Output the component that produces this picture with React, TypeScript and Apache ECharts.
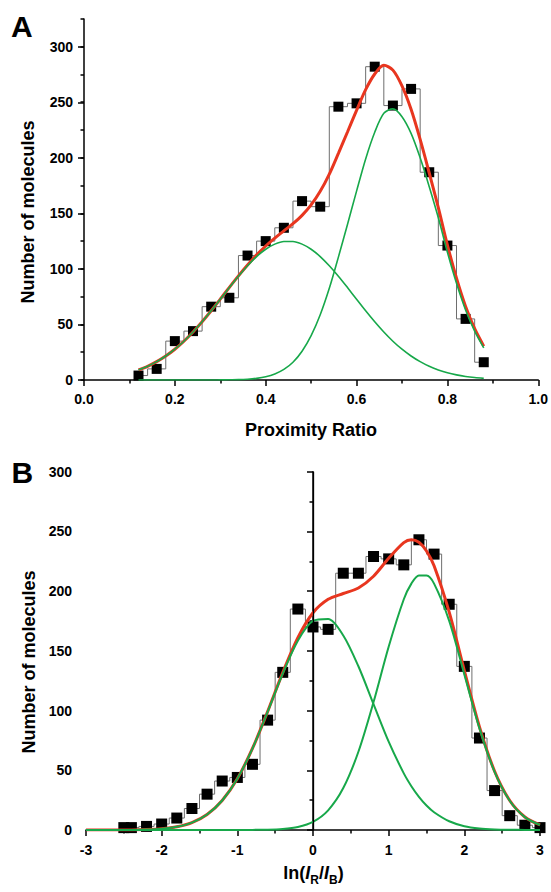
import React, { useEffect, useRef } from 'react';
import * as echarts from 'echarts';

// ---------- Panel A: proximity ratio histogram ----------
const A_BIN_X = [0.12, 0.16, 0.2, 0.24, 0.28, 0.32, 0.36, 0.4, 0.44, 0.48, 0.52, 0.56, 0.6, 0.64, 0.68, 0.72, 0.76, 0.8, 0.84, 0.88];
const A_COUNTS = [4, 10, 35, 44, 66, 74, 112, 125, 137, 161, 156, 246, 249, 282, 247, 262, 187, 121, 55, 16];

const A_FIT_X = [0.12, 0.14, 0.16, 0.18, 0.2, 0.22, 0.24, 0.26, 0.28, 0.3, 0.32, 0.34, 0.36, 0.38, 0.4, 0.42, 0.44, 0.46, 0.48, 0.5, 0.52, 0.54, 0.56, 0.58, 0.6, 0.62, 0.64, 0.66, 0.68, 0.7, 0.72, 0.74, 0.76, 0.78, 0.8, 0.82, 0.84, 0.86, 0.88];
const A_FIT_LOW = [9.1, 12.3, 16.5, 21.6, 27.7, 34.9, 43.2, 52.4, 62.3, 72.7, 83.2, 93.4, 102.8, 111.1, 117.7, 122.3, 124.7, 124.7, 122.3, 117.7, 111.1, 102.8, 93.4, 83.2, 72.7, 62.3, 52.4, 43.2, 34.9, 27.7, 21.6, 16.5, 12.3, 9.1, 6.5, 4.6, 3.2, 2.2, 1.5];
const A_FIT_HIGH = [0, 0, 0, 0, 0, 0, 0, 0, 0, 0.1, 0.2, 0.3, 0.7, 1.5, 2.9, 5.4, 9.5, 16.0, 25.9, 39.9, 58.7, 82.5, 110.6, 140, 170, 199, 223, 240, 244, 237, 222, 200, 174, 146, 115, 87, 63, 44, 29];
const A_FIT_SUM = [9.1, 12.3, 16.5, 21.6, 27.7, 34.9, 43.2, 52.4, 62.3, 72.8, 83.4, 93.7, 103.5, 112.6, 120.6, 127.7, 134.2, 140.7, 148.2, 157.6, 169.8, 185.3, 204.0, 223.2, 242.7, 261.3, 275.4, 283.2, 278.9, 264.7, 243.6, 216.5, 186.3, 155.1, 121.5, 91.6, 66.2, 46.2, 30.5];

// ---------- Panel B: ln(IR/IB) histogram ----------
const B_BIN_X = [-2.5, -2.4, -2.2, -2.0, -1.8, -1.6, -1.4, -1.2, -1.0, -0.8, -0.6, -0.4, -0.2, 0, 0.2, 0.4, 0.6, 0.8, 1.0, 1.2, 1.4, 1.6, 1.8, 2.0, 2.2, 2.4, 2.6, 2.8, 3.0];
const B_COUNTS = [2, 2, 3, 5, 10, 18, 30, 41, 44, 55, 92, 132, 185, 170, 168, 215, 215, 229, 227, 222, 243, 231, 189, 137, 77, 33, 12, 4, 2];

const B_FIT_X = [-3, -2.8, -2.6, -2.4, -2.2, -2, -1.8, -1.6, -1.4, -1.2, -1, -0.8, -0.6, -0.4, -0.2, 0, 0.2, 0.4, 0.6, 0.8, 1, 1.2, 1.3, 1.4, 1.5, 1.6, 1.8, 2, 2.2, 2.4, 2.6, 2.8, 3];
const B_FIT_LOW = [0, 0, 0, 0.1, 0.4, 1.1, 2.7, 6.2, 13.0, 24.7, 42.9, 68.2, 98.9, 131.0, 158.5, 175.1, 176.7, 162.9, 137.1, 105.4, 74.0, 47.4, 36.7, 27.8, 20.5, 14.9, 7.3, 3.2, 1.3, 0.5, 0.2, 0.1, 0];
const B_FIT_HIGH = [0, 0, 0, 0, 0, 0, 0, 0, 0, 0, 0, 0.1, 0.2, 0.8, 2.5, 6.8, 16.5, 35.1, 65.5, 107.1, 153.5, 193.2, 206.3, 213.1, 213.1, 206.3, 175.1, 130.3, 85.1, 48.7, 24.5, 10.8, 4.2];
const B_FIT_SUM = [0, 0, 0, 0.1, 0.4, 1.1, 2.7, 6.2, 13.0, 24.7, 42.9, 68.3, 99.1, 131.8, 161.0, 181.9, 193.2, 198.0, 202.6, 212.5, 227.5, 240.6, 243.0, 240.9, 233.6, 221.2, 182.4, 133.5, 86.4, 49.2, 24.7, 10.9, 4.2];

const FONT = "'Liberation Sans', Arial, Helvetica, sans-serif";
const RED = '#e8361f';
const GREEN = '#17a84a';
const HIST = '#6e6e6e';

const pairs = (xs: number[], ys: number[]) => xs.map((x, i) => [x, ys[i]]);

export default function App() {
  const ref = useRef<HTMLDivElement>(null);

  useEffect(() => {
    document.body.style.margin = '0';
    if (!ref.current) return;
    const chart = echarts.init(ref.current, undefined, { renderer: 'svg' });

    const lineStyle = { color: '#000', width: 1.5 };
    const label = { color: '#000', fontFamily: FONT, fontWeight: 'bold' as const, fontSize: 14 };
    const titleStyle = { fontFamily: FONT, fontWeight: 'bold', fontSize: 18, fill: '#000' };

    const histSeries = (xi: number, yi: number, xs: number[], ys: number[], extra: any = {}) => ({
      type: 'line', xAxisIndex: xi, yAxisIndex: yi, data: pairs(xs, ys), step: 'middle',
      showSymbol: false, lineStyle: { color: HIST, width: 1 }, z: 1, silent: true, ...extra,
    });
    const dots = (xi: number, yi: number, xs: number[], ys: number[], size: number) => ({
      type: 'scatter', xAxisIndex: xi, yAxisIndex: yi, data: pairs(xs, ys), symbol: 'rect',
      symbolSize: size, itemStyle: { color: '#000', opacity: 1 }, z: 2, silent: true,
    });
    const fit = (xi: number, yi: number, xs: number[], ys: number[], color: string, width: number, z: number) => ({
      type: 'line', xAxisIndex: xi, yAxisIndex: yi, data: pairs(xs, ys), smooth: 0.3,
      showSymbol: false, lineStyle: { color, width }, z, silent: true,
    });

    chart.setOption({
      animation: false,
      backgroundColor: '#fff',
      grid: [
        { left: 84, right: 12, top: 18.9, bottom: 512 },
        { left: 84, right: 12, top: 46.7, bottom: 512 },
        { left: 86, right: 11, top: 471.7, bottom: 62 },
      ],
      xAxis: [
        {
          gridIndex: 0, type: 'value', min: 0, max: 1, interval: 0.2,
          axisLine: { show: true, onZero: false, lineStyle },
          axisTick: { show: true, length: 6, lineStyle },
          minorTick: { show: true, splitNumber: 2, length: 3.5, lineStyle },
          splitLine: { show: false },
          axisLabel: { ...label, margin: 12, formatter: (v: number) => v.toFixed(1) },
        },
        { gridIndex: 1, type: 'value', min: 0, max: 1, show: false },
        {
          gridIndex: 2, type: 'value', min: -3, max: 3, interval: 1,
          axisLine: { show: true, onZero: false, lineStyle },
          axisTick: { show: true, length: 6, lineStyle },
          minorTick: { show: true, splitNumber: 2, length: 3.5, lineStyle },
          splitLine: { show: false },
          axisLabel: { ...label, margin: 13, formatter: (v: number) => String(v) },
        },
      ],
      yAxis: [
        {
          gridIndex: 0, type: 'value', min: 0, max: 325, interval: 25,
          axisLine: { show: true, lineStyle },
          axisTick: { show: true, length: 3.5, lineStyle },
          axisLabel: { show: false },
          splitLine: { show: false },
        },
        {
          gridIndex: 1, type: 'value', min: 0, max: 300, interval: 50,
          axisLine: { show: false },
          axisTick: { show: true, length: 6, lineStyle },
          axisLabel: { ...label, margin: 11 },
          splitLine: { show: false },
        },
        {
          gridIndex: 2, type: 'value', min: 0, max: 300, interval: 50,
          axisLine: { show: true, lineStyle },
          axisTick: { show: true, length: 6, lineStyle },
          minorTick: { show: true, splitNumber: 2, length: 3.5, lineStyle },
          axisLabel: { ...label, margin: 14 },
          splitLine: { show: false },
        },
      ],
      series: [
        histSeries(0, 0, A_BIN_X, A_COUNTS),
        dots(0, 0, A_BIN_X, A_COUNTS, 10),
        fit(0, 0, A_FIT_X, A_FIT_SUM, RED, 3, 3),
        fit(0, 0, A_FIT_X, A_FIT_LOW, GREEN, 1.6, 4),
        fit(0, 0, A_FIT_X, A_FIT_HIGH, GREEN, 1.6, 4),

        histSeries(2, 2, B_BIN_X, B_COUNTS, {
          markLine: {
            silent: true, symbol: ['none', 'none'], label: { show: false },
            lineStyle: { color: '#000', width: 1.3, type: 'solid' },
            data: [{ xAxis: 0 }],
          },
        }),
        dots(2, 2, B_BIN_X, B_COUNTS, 11),
        fit(2, 2, B_FIT_X, B_FIT_SUM, RED, 3, 3),
        fit(2, 2, B_FIT_X, B_FIT_LOW, GREEN, 2, 4),
        fit(2, 2, B_FIT_X, B_FIT_HIGH, GREEN, 2, 4),
      ],
      graphic: [
        { type: 'text', x: 11, y: 26, style: { text: 'A', fontFamily: FONT, fontWeight: 'bold', fontSize: 30, fill: '#000', align: 'left', verticalAlign: 'middle' } },
        { type: 'text', x: 11.5, y: 472.5, style: { text: 'B', fontFamily: FONT, fontWeight: 'bold', fontSize: 30, fill: '#000', align: 'left', verticalAlign: 'middle' } },
        { type: 'text', x: 28, y: 212, rotation: Math.PI / 2, style: { text: 'Number of molecules', ...titleStyle, align: 'center', verticalAlign: 'middle' } },
        { type: 'text', x: 29, y: 662, rotation: Math.PI / 2, style: { text: 'Number of molecules', ...titleStyle, align: 'center', verticalAlign: 'middle' } },
        { type: 'text', x: 311, y: 430, style: { text: 'Proximity Ratio', ...titleStyle, align: 'center', verticalAlign: 'middle' } },
        {
          type: 'text', x: 313.5, y: 864,
          style: {
            text: '{a|ln(}{i|I}{s|R}{a|/}{i|I}{s|B}{a|)}',
            align: 'center', verticalAlign: 'top',
            rich: {
              a: { fontFamily: FONT, fontWeight: 'bold', fontSize: 18, fill: '#000', lineHeight: 20, verticalAlign: 'top' },
              i: { fontFamily: FONT, fontWeight: 'bold', fontStyle: 'italic', fontSize: 18, fill: '#000', lineHeight: 20, verticalAlign: 'top' },
              s: { fontFamily: FONT, fontWeight: 'bold', fontSize: 12, fill: '#000', lineHeight: 12, padding: [10, 0, 0, 0], verticalAlign: 'top' },
            },
          },
        },
      ],
    });

    return () => chart.dispose();
  }, []);

  return <div ref={ref} style={{ width: 551, height: 892 }} />;
}
